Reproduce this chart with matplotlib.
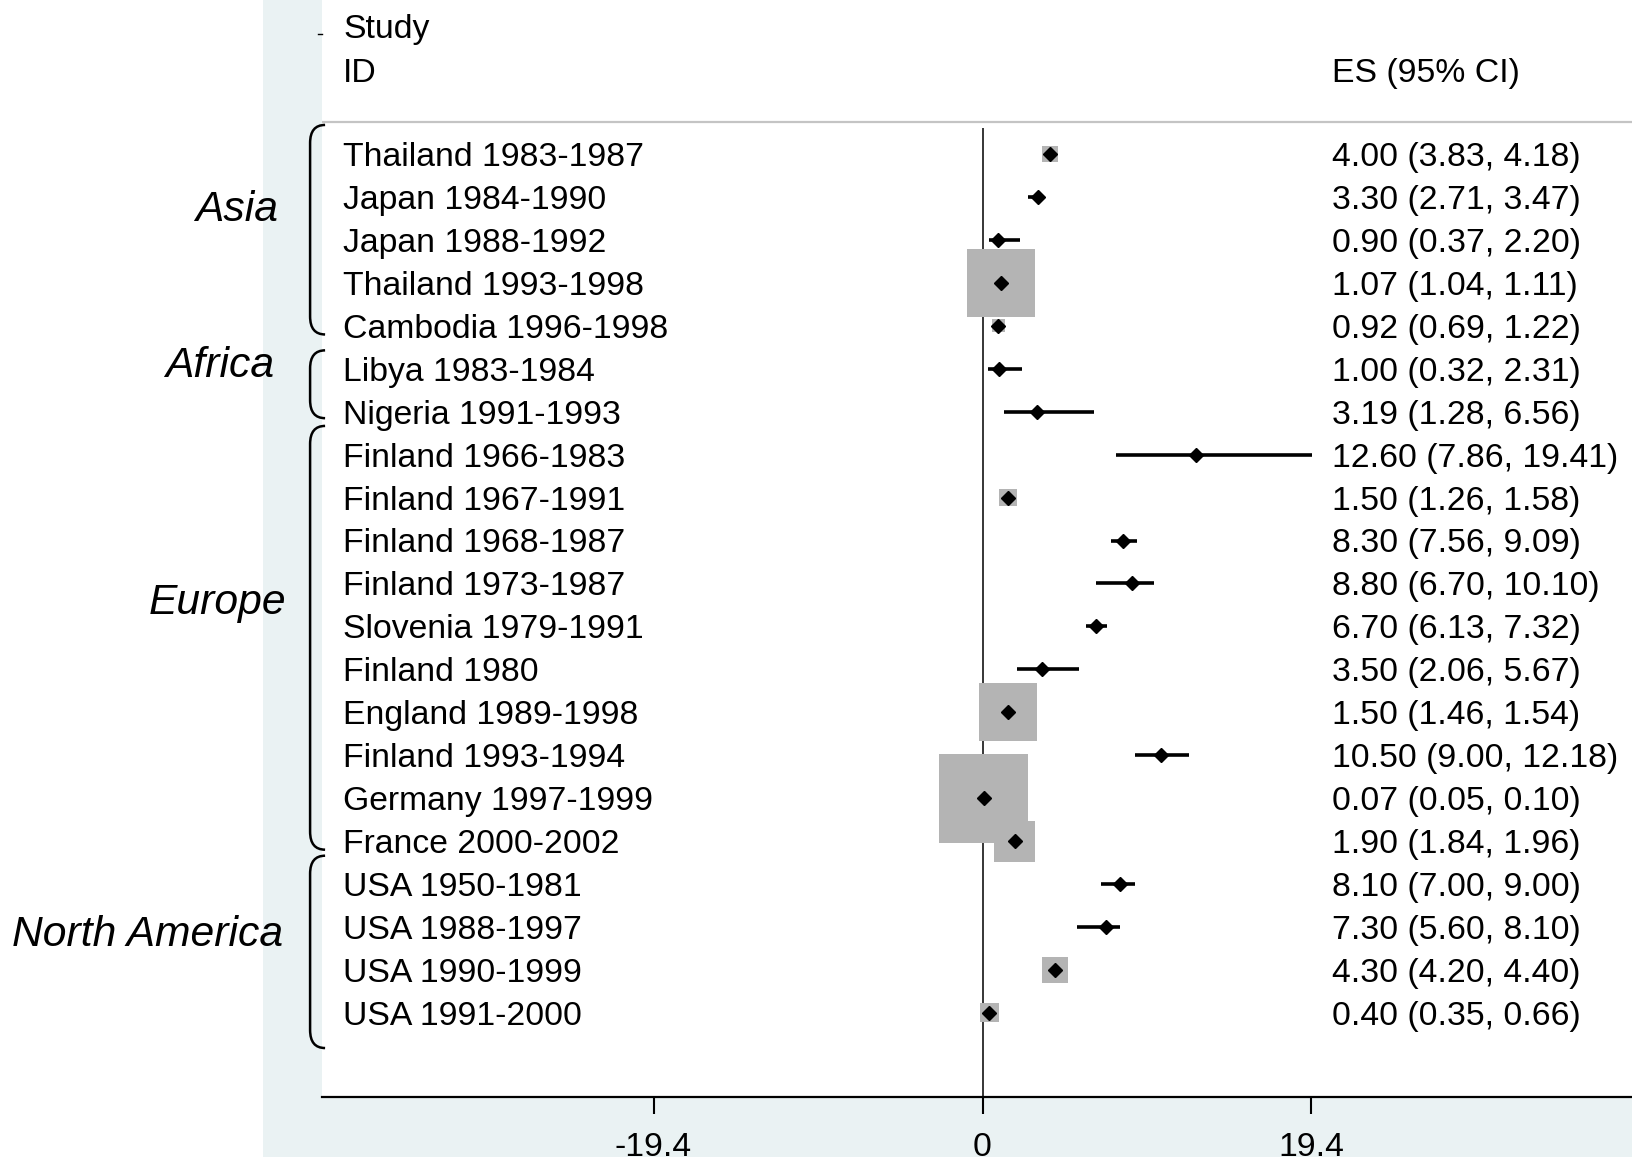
import numpy as np
import matplotlib
matplotlib.use("Agg")
import matplotlib.pyplot as plt
from matplotlib.patches import Rectangle, PathPatch
from matplotlib.path import Path
from matplotlib.lines import Line2D

# ---------------- data ----------------
studies = [
    "Thailand 1983-1987", "Japan 1984-1990", "Japan 1988-1992", "Thailand 1993-1998",
    "Cambodia 1996-1998", "Libya 1983-1984", "Nigeria 1991-1993", "Finland 1966-1983",
    "Finland 1967-1991", "Finland 1968-1987", "Finland 1973-1987", "Slovenia 1979-1991",
    "Finland 1980", "England 1989-1998", "Finland 1993-1994", "Germany 1997-1999",
    "France 2000-2002", "USA 1950-1981", "USA 1988-1997", "USA 1990-1999", "USA 1991-2000",
]
es = [4.00, 3.30, 0.90, 1.07, 0.92, 1.00, 3.19, 12.60, 1.50, 8.30, 8.80, 6.70,
      3.50, 1.50, 10.50, 0.07, 1.90, 8.10, 7.30, 4.30, 0.40]
ci_low = [3.83, 2.71, 0.37, 1.04, 0.69, 0.32, 1.28, 7.86, 1.26, 7.56, 6.70, 6.13,
          2.06, 1.46, 9.00, 0.05, 1.84, 7.00, 5.60, 4.20, 0.35]
ci_high = [4.18, 3.47, 2.20, 1.11, 1.22, 2.31, 6.56, 19.41, 1.58, 9.09, 10.10, 7.32,
           5.67, 1.54, 12.18, 0.10, 1.96, 9.00, 8.10, 4.40, 0.66]
# estimated study weights (%)
weights = [1.3, 0.3, 0.05, 23.5, 0.86, 0.05, 0.03, 0.01, 1.6, 0.2, 0.05, 0.3,
           0.05, 17.1, 0.1, 40.3, 8.5, 0.2, 0.1, 3.4, 1.8]

regions = ["Asia", "Africa", "Europe", "North America"]
region_label_row = [1.21, 4.85, 10.37, 18.1]
region_span = [(-0.68, 4.20), (4.57, 6.15), (6.33, 16.2), (16.34, 20.82)]

xtick_vals = [-19.4, 0, 19.4]
xtick_labels = ["-19.4", "0", "19.4"]

# ---------------- style ----------------
plt.rcParams["font.family"] = ["Liberation Sans", "DejaVu Sans"]
W, H = 1632, 1157
fig = plt.figure(figsize=(W / 100, H / 100), dpi=100)
fig.patch.set_facecolor("white")

BLUE = "#EAF2F3"
fig.add_artist(Rectangle((263 / W, 0), (W - 263) / W, 1, transform=fig.transFigure,
                         facecolor=BLUE, edgecolor="none", zorder=0))

ax_left = 322 / W
ax_bottom = (H - 1097) / H
ax = fig.add_axes([ax_left, ax_bottom, 1 - ax_left, 1 - ax_bottom])
ax.set_facecolor("white")
ax.set_xlim(-38.95, 38.3)
ax.set_ylim(21.96, -3.59)
for s in ["top", "left", "right"]:
    ax.spines[s].set_visible(False)
ax.spines["bottom"].set_linewidth(1.6)
ax.set_yticks([])
ax.set_xticks(xtick_vals)
ax.set_xticklabels(xtick_labels, fontsize=24.3)
ax.tick_params(axis="x", length=12, width=1.5, pad=13, colors="black")

rows = np.arange(len(studies))
FS = 24.3
dy = 0.08  # text baseline nudge

# header line and zero line
ax.axhline(-0.745, color="#C4C4C4", lw=1.6, zorder=1)
ax.vlines(0, -0.62, 21.96, color="black", lw=1.1, zorder=1)

# weight boxes
box_side_pt = 10.1 * np.sqrt(np.array(weights))
ax.scatter(es, rows, s=box_side_pt ** 2, marker="s", color="#B4B4B4",
           edgecolors="none", zorder=2)
# confidence intervals
ax.hlines(rows, ci_low, ci_high, color="black", lw=2.6, zorder=3)
# point estimates
ax.plot(es, rows, linestyle="none", marker="D", ms=6.7, color="black", zorder=4)

# text columns
x_study = -37.7
x_es = 20.6
ax.text(x_study, -2.99 + dy, "Study", fontsize=FS, va="center", ha="left")
ax.text(x_study, -1.96 + dy, "ID", fontsize=FS, va="center", ha="left")
ax.text(x_es, -1.96 + dy, "ES (95% CI)", fontsize=FS, va="center", ha="left")
for r, name, e, lo, hi in zip(rows, studies, es, ci_low, ci_high):
    ax.text(x_study, r + dy, name, fontsize=FS, va="center", ha="left")
    ax.text(x_es, r + dy, f"{e:.2f} ({lo:.2f}, {hi:.2f})", fontsize=FS,
            va="center", ha="left", clip_on=False)

# region labels and brackets
region_right_px = [278, 274, 286, 283]
for name, yr, xr in zip(regions, region_label_row, region_right_px):
    xd = (xr - 982.5) / 16.96
    ax.text(xd, yr + dy, name, fontsize=30.7, style="italic", ha="right", va="center",
            clip_on=False)

x_line = (310 - 982.5) / 16.96
x_end = (325 - 982.5) / 16.96
r_y = 0.42
for (y0, y1) in region_span:
    verts = [(x_end, y0), (x_line, y0), (x_line, y0 + r_y),
             (x_line, y1 - r_y), (x_line, y1), (x_end, y1)]
    codes = [Path.MOVETO, Path.CURVE3, Path.CURVE3,
             Path.LINETO, Path.CURVE3, Path.CURVE3]
    ax.add_patch(PathPatch(Path(verts, codes), facecolor="none", edgecolor="black",
                           lw=1.8, clip_on=False, zorder=5))

# small dash artefact next to header
fig.add_artist(Line2D([318 / W, 322 / W], [1 - 34 / H, 1 - 34 / H],
                      transform=fig.transFigure, color="black", lw=1))

fig.savefig("out.png", dpi=100, facecolor=fig.get_facecolor())
